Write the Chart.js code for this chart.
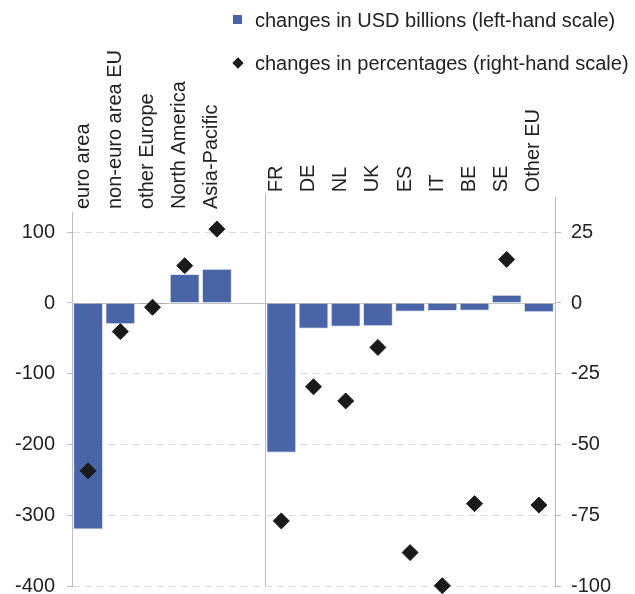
<!DOCTYPE html>
<html>
<head>
<meta charset="utf-8">
<script src="https://cdn.jsdelivr.net/npm/chart.js@4/dist/chart.umd.min.js"></script>
<style>
  body { margin: 0; background: #fff; }
  #wrap { position: relative; width: 635px; height: 594px; overflow: hidden; }
  .leg { position: absolute; left: 233px; font: 20px "Liberation Sans", Arial, sans-serif; line-height: 23px; color: #222; white-space: nowrap; }
  .leg span.mk { display: inline-block; vertical-align: middle; margin-right: 13px; position: relative; top: -2px; }
  .sq { width: 9px; height: 9px; background: #4a64a8; }
  .dm { width: 8px; height: 8px; background: #1a1a1a; transform: rotate(45deg); margin-left: 1px; }
</style>
</head>
<body>
<div id="wrap">
  <canvas id="chart" width="635" height="610"></canvas>
  <div class="leg" style="top:9px"><span class="mk sq"></span>changes in USD billions (left-hand scale)</div>
  <div class="leg" style="top:52px"><span class="mk dm"></span>changes in percentages (right-hand scale)</div>
</div>
<script>
/* categories: left group, empty slot, country group */
const categories = ["euro area", "non-euro area EU", "other Europe", "North America", "Asia-Pacific", "",
  "FR", "DE", "NL", "UK", "ES", "IT", "BE", "SE", "Other EU"];

/* changes in USD billions (left-hand scale) */
const usdChanges = [-320, -30, -2, 41, 48.5, null, -211.5, -36.5, -33.5, -33, -12.3, -11.3, -10.8, 11.8, -13];

/* changes in percentages (right-hand scale) */
const pctChanges = [-59.3, -10.1, -1.5, 13.2, 26.1, null, -77, -29.6, -34.6, -15.7, -88.2, -99.9, -70.9, 15.4, -71.4];

const leftTicks = [-400, -300, -200, -100, 0, 100];
const rightTicks = [-100, -75, -50, -25, 0, 25];

const font = { family: "'Liberation Sans', Arial, sans-serif", size: 20 };
const lineGrey = "#bdbdbd";

/* solid zero line, plus the separator and right axis reaching a bit higher */
const extraLines = {
  id: "extraLines",
  beforeDatasetsDraw(chart) {
    const { ctx, chartArea, scales } = chart;
    const y = Math.round(scales.y.getPixelForValue(0)) + 0.5;
    ctx.save();
    ctx.strokeStyle = "#c4c4c4";
    ctx.lineWidth = 1;
    ctx.beginPath();
    ctx.moveTo(chartArea.left, y);
    ctx.lineTo(chartArea.right, y);
    ctx.stroke();

    const top = scales.y.getPixelForValue(150);
    const sepX = Math.round((scales.x.getPixelForValue(5) + scales.x.getPixelForValue(6)) / 2) + 0.5;
    const rX = Math.round(chartArea.right) + 0.5;
    ctx.strokeStyle = lineGrey;
    ctx.beginPath();
    ctx.moveTo(sepX, top - 4);
    ctx.lineTo(sepX, chartArea.top);
    ctx.moveTo(rX, top);
    ctx.lineTo(rX, chartArea.top);
    ctx.stroke();
    ctx.restore();
  }
};

new Chart(document.getElementById("chart"), {
  data: {
    labels: categories,
    datasets: [
      {
        type: "scatter",
        label: "changes in percentages (right-hand scale)",
        data: pctChanges,
        yAxisID: "y2",
        pointStyle: "rectRot",
        pointRadius: 8,
        pointHoverRadius: 8,
        backgroundColor: "#1a1a1a",
        borderColor: "#1a1a1a",
        showLine: false,
        clip: false
      },
      {
        type: "bar",
        label: "changes in USD billions (left-hand scale)",
        data: usdChanges,
        yAxisID: "y",
        backgroundColor: "#4a64a8",
        borderColor: "#dfe4f0",
        borderWidth: 1,
        categoryPercentage: 1,
        barPercentage: 0.93
      }
    ]
  },
  options: {
    responsive: false,
    animation: false,
    layout: { padding: 0, autoPadding: false },
    plugins: { legend: { display: false }, tooltip: { enabled: false } },
    scales: {
      x: {
        type: "category",
        position: "top",
        offset: true,
        afterFit: s => { s.height = 212; },
        border: { display: false },
        grid: {
          offset: true,
          drawTicks: false,
          color: ctx => ctx.index === 6 ? lineGrey : "rgba(0,0,0,0)"
        },
        ticks: {
          font: font,
          color: "#222",
          minRotation: 90,
          maxRotation: 90,
          autoSkip: false,
          padding: 3,
          labelOffset: 19,
          // the country group sits a little higher than the regions
          callback: (v, i) => (i > 5 ? "   " : "") + categories[i]
        }
      },
      y: {
        position: "left",
        min: -400,
        max: 128.6,
        afterFit: s => { s.width = 72; },
        afterBuildTicks: s => { s.ticks = leftTicks.map(v => ({ value: v })); },
        border: { color: lineGrey, dash: [7, 5] },
        grid: {
          color: ctx => ctx.tick && ctx.tick.value === 0 ? "rgba(0,0,0,0)" : "#dadada",
          tickColor: lineGrey,
          tickLength: 5
        },
        ticks: { font: font, color: "#222", padding: 12 }
      },
      y2: {
        position: "right",
        min: -100,
        max: 32.15,
        afterFit: s => { s.width = 80; },
        afterBuildTicks: s => { s.ticks = rightTicks.map(v => ({ value: v })); },
        border: { color: lineGrey },
        grid: { drawOnChartArea: false, tickColor: lineGrey, tickLength: 6 },
        ticks: { font: font, color: "#222", padding: 10 }
      }
    }
  },
  plugins: [extraLines]
});
</script>
</body>
</html>
